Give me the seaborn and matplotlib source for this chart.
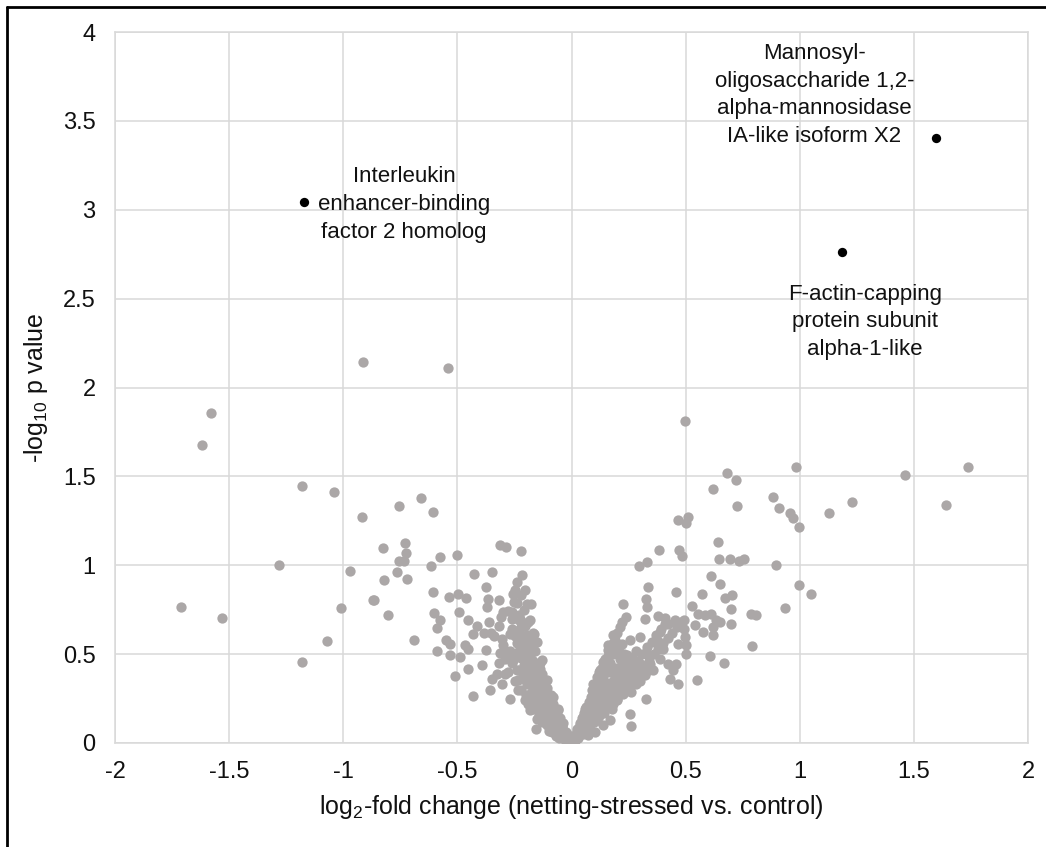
import numpy as np
import pandas as pd
import matplotlib.pyplot as plt
import seaborn as sns
from matplotlib.lines import Line2D

# grey proteins, (log2 fold change, -log10 p)
left_tail = [(-0.913, 2.144), (-1.58, 1.854), (-1.621, 1.674), (-1.182, 1.448), (-1.041, 1.413),
             (-0.920, 1.272), (-1.280, 1.0), (-0.971, 0.970), (-1.710, 0.766), (-1.531, 0.705),
             (-0.872, 0.803), (-1.009, 0.762), (-1.071, 0.572), (-1.182, 0.456)]

left_arm = [(-0.541, 2.107), (-0.660, 1.381), (-0.758, 1.334), (-0.609, 1.300), (-0.827, 1.099),
            (-0.729, 1.126), (-0.726, 1.069), (-0.758, 1.024), (-0.736, 1.024), (-0.765, 0.962),
            (-0.824, 0.916), (-0.719, 0.925), (-0.867, 0.803), (-0.805, 0.722), (-0.692, 0.578),
            (-0.577, 1.045), (-0.615, 0.994), (-0.500, 1.056), (-0.313, 1.113), (-0.287, 1.103),
            (-0.224, 1.081), (-0.429, 0.953), (-0.347, 0.961), (-0.219, 0.944), (-0.241, 0.906),
            (-0.375, 0.878), (-0.204, 0.859), (-0.606, 0.850), (-0.536, 0.822), (-0.496, 0.841),
            (-0.464, 0.816), (-0.365, 0.812), (-0.319, 0.807), (-0.372, 0.765), (-0.255, 0.841),
            (-0.251, 0.794), (-0.178, 0.780), (-0.493, 0.737), (-0.601, 0.732), (-0.577, 0.690),
            (-0.590, 0.647), (-0.299, 0.737), (-0.262, 0.737), (-0.452, 0.690), (-0.415, 0.657),
            (-0.430, 0.612), (-0.386, 0.619), (-0.354, 0.619), (-0.319, 0.657), (-0.229, 0.690),
            (-0.204, 0.662), (-0.182, 0.694), (-0.306, 0.587), (-0.271, 0.615), (-0.239, 0.625),
            (-0.166, 0.615), (-0.153, 0.568), (-0.550, 0.578), (-0.532, 0.559), (-0.588, 0.516),
            (-0.532, 0.497), (-0.488, 0.484), (-0.466, 0.550), (-0.452, 0.531), (-0.375, 0.525),
            (-0.313, 0.507), (-0.277, 0.512), (-0.292, 0.475), (-0.255, 0.465), (-0.219, 0.493),
            (-0.197, 0.522), (-0.131, 0.465), (-0.510, 0.377), (-0.452, 0.418), (-0.394, 0.441),
            (-0.350, 0.362), (-0.328, 0.390), (-0.292, 0.390), (-0.306, 0.334), (-0.358, 0.296),
            (-0.430, 0.263), (-0.270, 0.250), (-0.233, 0.296), (-0.197, 0.334), (-0.166, 0.371),
            (-0.138, 0.418), (-0.109, 0.353), (-0.204, 0.240), (-0.182, 0.184), (-0.153, 0.137),
            (-0.153, 0.259), (-0.124, 0.221), (-0.080, 0.259), (-0.095, 0.184), (-0.058, 0.184),
            (-0.073, 0.137), (-0.157, 0.081), (-0.124, 0.128), (-0.066, 0.071), (-0.044, 0.090),
            (-0.029, 0.043), (-0.007, 0.015), (-0.211, 0.371), (-0.189, 0.446), (-0.211, 0.522),
            (-0.233, 0.353), (-0.241, 0.409)]

centre = [(-0.02, 0.03), (-0.03, 0.05), (-0.04, 0.07), (-0.05, 0.09), (-0.06, 0.11), (-0.07, 0.12),
          (-0.05, 0.14), (-0.08, 0.15), (-0.09, 0.17), (-0.06, 0.19), (-0.10, 0.20), (-0.08, 0.22),
          (-0.11, 0.24), (-0.12, 0.26), (-0.09, 0.27), (-0.13, 0.29), (-0.11, 0.31), (-0.14, 0.33),
          (-0.12, 0.35), (-0.15, 0.37), (-0.13, 0.39), (-0.16, 0.41), (-0.17, 0.43), (-0.14, 0.45),
          (-0.18, 0.47), (-0.19, 0.50), (-0.16, 0.52), (-0.20, 0.55), (-0.18, 0.57), (-0.21, 0.60),
          (-0.17, 0.62), (-0.22, 0.65), (-0.19, 0.68), (-0.23, 0.72), (-0.21, 0.75), (-0.24, 0.79),
          (-0.22, 0.83), (-0.25, 0.86), (-0.01, 0.02), (-0.015, 0.01), (-0.035, 0.03), (-0.045, 0.05),
          (-0.025, 0.06), (-0.055, 0.08), (-0.065, 0.10), (-0.04, 0.11), (-0.075, 0.14), (-0.085, 0.13),
          (-0.095, 0.16), (-0.07, 0.18), (-0.105, 0.19), (-0.115, 0.21), (-0.10, 0.23), (-0.125, 0.24),
          (-0.135, 0.25), (-0.12, 0.28), (-0.145, 0.30), (-0.155, 0.32), (-0.135, 0.34), (-0.165, 0.36),
          (-0.15, 0.38), (-0.175, 0.40), (-0.185, 0.42), (-0.17, 0.46), (-0.19, 0.48), (-0.205, 0.51),
          (-0.175, 0.53), (-0.215, 0.56), (-0.23, 0.59), (-0.195, 0.61), (-0.245, 0.63), (-0.205, 0.66),
          (-0.26, 0.70), (-0.225, 0.70), (-0.28, 0.74), (-0.195, 0.78), (-0.27, 0.52), (-0.30, 0.55),
          (-0.26, 0.45), (-0.28, 0.40), (-0.32, 0.45), (-0.34, 0.60), (-0.36, 0.68), (-0.31, 0.71),
          (-0.25, 0.35), (-0.22, 0.30), (-0.20, 0.27), (-0.19, 0.22), (-0.17, 0.19), (-0.145, 0.16),
          (-0.13, 0.12), (-0.11, 0.10), (-0.10, 0.07), (-0.085, 0.06), (-0.07, 0.04), (-0.055, 0.03),
          (-0.03, 0.015), (-0.02, 0.05), (-0.04, 0.04), (-0.06, 0.06), (-0.08, 0.09), (-0.09, 0.11),
          (-0.11, 0.14), (-0.12, 0.17), (-0.13, 0.19), (-0.14, 0.22), (-0.15, 0.25), (-0.16, 0.28),
          (-0.17, 0.31), (-0.18, 0.33), (-0.19, 0.36), (-0.20, 0.40), (-0.21, 0.44), (-0.22, 0.48),
          (-0.23, 0.52), (-0.24, 0.56), (-0.25, 0.60), (-0.26, 0.64), (-0.15, 0.21), (-0.17, 0.24),
          (-0.18, 0.28), (-0.21, 0.36), (-0.23, 0.41), (-0.24, 0.49),
          (0.01, 0.01), (0.015, 0.03), (0.02, 0.05), (0.03, 0.06), (0.025, 0.08), (0.04, 0.09),
          (0.035, 0.11), (0.05, 0.12), (0.045, 0.14), (0.06, 0.15), (0.055, 0.17), (0.07, 0.18),
          (0.065, 0.20), (0.08, 0.21), (0.075, 0.23), (0.09, 0.24), (0.085, 0.26), (0.10, 0.27),
          (0.095, 0.29), (0.11, 0.30), (0.105, 0.32), (0.12, 0.33), (0.115, 0.35), (0.13, 0.36),
          (0.125, 0.38), (0.14, 0.39), (0.135, 0.42), (0.15, 0.44), (0.145, 0.47), (0.16, 0.49),
          (0.17, 0.51), (0.165, 0.54), (0.18, 0.56), (0.19, 0.58), (0.20, 0.62), (0.21, 0.65),
          (0.12, 0.15), (0.14, 0.17), (0.16, 0.20), (0.18, 0.22), (0.20, 0.25), (0.22, 0.28),
          (0.24, 0.31), (0.26, 0.34), (0.28, 0.37), (0.30, 0.40), (0.32, 0.43), (0.34, 0.46),
          (0.36, 0.50), (0.38, 0.53), (0.40, 0.56), (0.42, 0.59), (0.44, 0.62), (0.46, 0.65),
          (0.48, 0.68), (0.10, 0.12), (0.08, 0.10), (0.06, 0.07), (0.05, 0.05), (0.03, 0.03),
          (0.09, 0.15), (0.11, 0.18), (0.13, 0.21), (0.15, 0.24), (0.17, 0.27), (0.19, 0.30),
          (0.21, 0.33), (0.23, 0.37), (0.25, 0.40), (0.27, 0.43), (0.29, 0.46), (0.31, 0.50),
          (0.33, 0.54), (0.35, 0.57), (0.37, 0.61), (0.39, 0.64), (0.41, 0.67), (0.07, 0.13),
          (0.09, 0.19), (0.11, 0.22), (0.12, 0.26), (0.14, 0.29), (0.16, 0.31), (0.18, 0.35),
          (0.20, 0.38), (0.22, 0.42), (0.24, 0.45), (0.26, 0.48), (0.28, 0.52), (0.015, 0.015),
          (0.005, 0.005), (-0.005, 0.005), (0.0, 0.01), (0.02, 0.02), (0.04, 0.05), (0.05, 0.08),
          (0.06, 0.10), (0.07, 0.11), (0.08, 0.14), (0.10, 0.17), (0.11, 0.20), (0.12, 0.23),
          (0.13, 0.24), (0.14, 0.26), (0.15, 0.28), (0.16, 0.26), (0.17, 0.30), (0.18, 0.32),
          (0.19, 0.34), (0.20, 0.36), (0.21, 0.30), (0.22, 0.35), (0.23, 0.40), (0.19, 0.42),
          (0.17, 0.45), (0.18, 0.50), (0.20, 0.52), (0.21, 0.55), (0.23, 0.50), (0.25, 0.45),
          (0.27, 0.47), (0.29, 0.41), (0.31, 0.44), (0.30, 0.35), (0.32, 0.38), (0.34, 0.41),
          (0.13, 0.30), (0.12, 0.40), (0.14, 0.35), (0.10, 0.22), (0.09, 0.21), (0.07, 0.16),
          (0.06, 0.12)]

right_arm = [(0.497, 1.809), (0.681, 1.520), (0.719, 1.482), (0.618, 1.428), (0.723, 1.332),
             (0.466, 1.257), (0.510, 1.272), (0.503, 1.235), (0.641, 1.129), (0.382, 1.088),
             (0.469, 1.084), (0.485, 1.053), (0.646, 1.036), (0.692, 1.036), (0.733, 1.026),
             (0.755, 1.034), (0.296, 0.998), (0.328, 1.019), (0.612, 0.940), (0.649, 0.897),
             (0.334, 0.878), (0.459, 0.850), (0.569, 0.841), (0.671, 0.816), (0.704, 0.835),
             (0.700, 0.756), (0.324, 0.812), (0.328, 0.765), (0.321, 0.700), (0.223, 0.780),
             (0.238, 0.709), (0.220, 0.681), (0.529, 0.769), (0.554, 0.728), (0.583, 0.719),
             (0.612, 0.724), (0.634, 0.690), (0.619, 0.653), (0.649, 0.681), (0.700, 0.668),
             (0.787, 0.728), (0.809, 0.722), (0.542, 0.662), (0.576, 0.625), (0.619, 0.606),
             (0.491, 0.694), (0.491, 0.644), (0.496, 0.597), (0.500, 0.550), (0.503, 0.503),
             (0.792, 0.544), (0.605, 0.488), (0.666, 0.452), (0.550, 0.356), (0.379, 0.713),
             (0.408, 0.704), (0.423, 0.672), (0.452, 0.690), (0.386, 0.625), (0.372, 0.578),
             (0.401, 0.531), (0.466, 0.559), (0.386, 0.475), (0.420, 0.446), (0.459, 0.446),
             (0.445, 0.409), (0.466, 0.334), (0.430, 0.362), (0.331, 0.503), (0.299, 0.446),
             (0.284, 0.418), (0.343, 0.446), (0.357, 0.409), (0.325, 0.250), (0.299, 0.597),
             (0.255, 0.578), (0.182, 0.606), (0.160, 0.550), (0.160, 0.522), (0.138, 0.456),
             (0.211, 0.475), (0.219, 0.446), (0.241, 0.493), (0.248, 0.334), (0.255, 0.353),
             (0.262, 0.287), (0.255, 0.165), (0.259, 0.094), (0.284, 0.334), (0.226, 0.278),
             (0.197, 0.240), (0.175, 0.193), (0.182, 0.334), (0.153, 0.296), (0.124, 0.409),
             (0.109, 0.371), (0.095, 0.334), (0.087, 0.296), (0.124, 0.259), (0.058, 0.193),
             (0.080, 0.184), (0.051, 0.146), (0.095, 0.165), (0.109, 0.128), (0.036, 0.099),
             (0.066, 0.081), (0.022, 0.062), (0.007, 0.024), (-0.007, 0.006), (-0.029, 0.043),
             (-0.044, 0.090), (0.211, 0.390), (0.168, 0.400), (0.219, 0.559), (0.204, 0.531),
             (0.131, 0.353), (0.146, 0.231), (0.168, 0.128), (0.138, 0.099), (0.102, 0.062),
             (0.073, 0.043)]

right_tail = [(0.983, 1.553), (1.459, 1.510), (1.735, 1.553), (0.884, 1.385), (0.910, 1.323),
              (0.957, 1.296), (0.971, 1.263), (0.997, 1.216), (1.129, 1.295), (1.230, 1.358),
              (1.638, 1.338), (0.896, 1.004), (0.994, 0.889), (1.049, 0.839), (0.933, 0.762)]

# the three labelled proteins
hit_fc = [-1.171, 1.594, 1.184]
hit_p = [3.042, 3.405, 2.761]
hit_names = ['Interleukin\nenhancer-binding\nfactor 2 homolog',
             'Mannosyl-\noligosaccharide 1,2-\nalpha-mannosidase\nIA-like isoform X2',
             'F-actin-capping\nprotein subunit\nalpha-1-like']
label_x = [-0.734, 1.063, 1.285]
label_y = [3.03, 3.645, 2.37]

grey = pd.DataFrame(left_tail + left_arm + centre + right_arm + right_tail, columns=['fc', 'p'])
hits = pd.DataFrame({'fc': hit_fc, 'p': hit_p})

sns.set_style('white')
plt.rcParams['font.family'] = ['Liberation Sans', 'DejaVu Sans']
plt.rcParams['mathtext.default'] = 'regular'

fig = plt.figure(figsize=(10.46, 8.47), dpi=100)
ax = fig.add_axes([0.110, 0.1228, 0.873, 0.8394])

grid_c = '#d9d9d9'
ax.set_xticks(np.arange(-2, 2.01, 0.5))
ax.set_yticks(np.arange(0, 4.01, 0.5))
ax.set_xticklabels(['-2', '-1.5', '-1', '-0.5', '0', '0.5', '1', '1.5', '2'])
ax.set_yticklabels(['0', '0.5', '1', '1.5', '2', '2.5', '3', '3.5', '4'])
ax.grid(True, color=grid_c, linewidth=1.1)
ax.set_axisbelow(True)
for s in ax.spines.values():
    s.set_color(grid_c)
    s.set_linewidth(1.1)

sns.scatterplot(data=grey, x='fc', y='p', color='#aba7a7', s=55, linewidth=0, ax=ax, zorder=3)
sns.scatterplot(data=hits, x='fc', y='p', color='black', s=45, linewidth=0, ax=ax, zorder=4)

for name, tx, ty in zip(hit_names, label_x, label_y):
    ax.text(tx, ty, name, ha='center', va='center', multialignment='center',
            fontsize=16, linespacing=1.42, color='#111111')

ax.set_xlim(-2, 2)
ax.set_ylim(0, 4)
ax.tick_params(axis='both', length=0, labelsize=17, colors='#111111')
ax.tick_params(axis='x', pad=13)
ax.tick_params(axis='y', pad=14)
ax.set_xlabel('log$_2$-fold change (netting-stressed vs. control)', fontsize=18, color='#111111', labelpad=7)
ax.set_ylabel('-log$_{10}$ p value', fontsize=18, color='#111111', labelpad=9)

# frame around the figure (left and top edges visible)
fig.add_artist(Line2D([0.0067, 0.0067], [0, 0.9917], color='black', linewidth=2))
fig.add_artist(Line2D([0.0067, 1], [0.9917, 0.9917], color='black', linewidth=2))

fig.savefig('out.png', dpi=100)
